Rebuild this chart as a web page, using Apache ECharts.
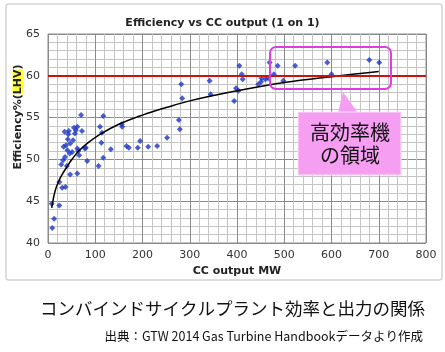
<!DOCTYPE html>
<html>
<head>
<meta charset="utf-8">
<script src="https://cdn.jsdelivr.net/npm/echarts@6/dist/echarts.min.js"></script>
<style>
    html, body { margin: 0; padding: 0; background: #fff; }
    #chart { width: 445px; height: 352px; }
</style>
</head>
<body>
<div id="chart"></div>
<script>
// プラント出力 (MW) と効率 (%LHV)
var plantOutput = [8, 9, 13, 24, 24, 30, 37, 28, 32, 36, 38, 40, 41, 42, 43, 44, 46, 47, 47, 51,
    53, 55, 57, 59, 62, 62, 62, 64, 66, 70, 72, 78, 80, 83, 33, 35,
    107, 110, 114, 117, 113, 117, 133, 156, 157, 166, 171, 190, 195, 212, 231, 252,
    277, 279, 282, 284, 342, 344, 394, 398, 403, 405, 410, 412,
    445, 451, 452, 460, 466, 469, 478, 486, 498, 523, 591, 600, 680, 701];
var plantEff = [44.7, 41.8, 42.9, 44.5, 47.3, 46.6, 46.7, 49.4, 49.9, 50.3, 51.7, 49.2, 51.1, 52.4, 53.0, 53.4, 50.7, 51.9, 48.2, 50.9,
    52.3, 53.8, 53.1, 53.5, 53.9, 51.3, 48.3, 51.0, 50.5, 55.3, 53.4, 51.3, 51.4, 49.8, 51.5, 53.3,
    49.2, 53.9, 53.2, 55.2, 52.0, 50.2, 51.2, 54.2, 53.9, 51.6, 51.4, 51.4, 52.2, 51.5, 51.6, 52.6,
    54.7, 53.6, 59.0, 57.3, 59.4, 57.8, 57.0, 58.5, 58.2, 61.2, 60.2, 59.6,
    59.0, 59.3, 59.7, 59.6, 59.7, 61.6, 60.2, 61.2, 59.4, 61.2, 61.6, 60.2, 61.9, 61.6];

// 近似曲線
var trendOutput = [8, 12, 16, 22, 30, 40, 52, 65, 85, 110, 150, 200, 250, 300, 400, 500, 600, 700];
var trendEff = [44.2, 45.5, 46.4, 47.3, 48.2, 49.1, 50.1, 51.0, 52.0, 53.0, 54.2, 55.3, 56.2, 57.0, 58.2, 59.2, 59.9, 60.5];

var highLine = 60;

var plants = [], trend = [];
for (var i = 0; i < plantOutput.length; i++) {
    plants.push([plantOutput[i], plantEff[i]]);
}
for (var j = 0; j < trendOutput.length; j++) {
    trend.push([trendOutput[j], trendEff[j]]);
}

var chart = echarts.init(document.getElementById('chart'));
var font = 'DejaVu Sans';
var option = {
    animation: false,
    title: {
        text: 'Efficiency vs CC output (1 on 1)',
        left: 'center',
        top: 13,
        textStyle: { fontFamily: font, fontSize: 11, fontWeight: 'bold', color: '#222' }
    },
    grid: { left: 48, right: 19, top: 34, bottom: 109, show: true, borderColor: '#888', borderWidth: 1 },
    xAxis: {
        type: 'value', min: 0, max: 800, interval: 100,
        name: 'CC output MW', nameLocation: 'middle', nameGap: 23,
        nameTextStyle: { fontFamily: font, fontSize: 11, fontWeight: 'bold', color: '#222' },
        axisLine: { show: false }, axisTick: { show: false },
        axisLabel: { fontFamily: font, fontSize: 11, color: '#333', margin: 7 },
        splitLine: { lineStyle: { color: '#8c8c8c', width: 1 } },
        minorTick: { show: false, splitNumber: 5 },
        minorSplitLine: { show: true, lineStyle: { color: '#c4c4c4', width: 1 } }
    },
    yAxis: {
        type: 'value', min: 40, max: 65, interval: 5,
        axisLine: { show: false }, axisTick: { show: false },
        axisLabel: { fontFamily: font, fontSize: 11, color: '#333', margin: 8 },
        splitLine: { lineStyle: { color: '#8c8c8c', width: 1 } },
        minorTick: { show: false, splitNumber: 5 },
        minorSplitLine: { show: true, lineStyle: { color: '#c4c4c4', width: 1 } }
    },
    series: [
        {
            type: 'scatter', data: plants, symbol: 'diamond', symbolSize: 6,
            itemStyle: { color: '#1c36c4' }, z: 3,
            markLine: {
                silent: true, symbol: 'none', label: { show: false },
                lineStyle: { color: '#d01010', width: 2, type: 'solid' },
                data: [{ yAxis: highLine }]
            }
        },
        {
            type: 'line', data: trend, smooth: 0.4, showSymbol: false,
            lineStyle: { color: '#000', width: 1.5 }, z: 4
        }
    ],
    graphic: [
        {
            type: 'rect', shape: { x: 6, y: 4, width: 436, height: 276, r: 2 },
            style: { fill: 'none', stroke: '#bdbdbd', lineWidth: 1 }, z: -1
        },
        {
            type: 'text', x: 18, y: 117, rotation: Math.PI / 2,
            style: {
                text: '{a|Efficiency%(}{b|LHV}{a|)}',
                align: 'center', verticalAlign: 'middle',
                rich: {
                    a: { fontFamily: font, fontSize: 11, fontWeight: 'bold', fill: '#222' },
                    b: { fontFamily: font, fontSize: 11, fontWeight: 'bold', fill: '#222', backgroundColor: '#ffff33' }
                }
            }
        },
        {
            type: 'rect', shape: { x: 270, y: 47, width: 121, height: 42, r: 6 },
            style: { fill: 'none', stroke: '#e03ce0', lineWidth: 2 }, z: 10
        },
        {
            type: 'polygon', shape: { points: [[338, 113], [358, 113], [343, 92]] },
            style: { fill: '#f59ef2' }, z: 10
        },
        {
            type: 'rect', shape: { x: 298, y: 112, width: 103, height: 63 },
            style: { fill: '#f59ef2', stroke: '#fbe0f9', lineWidth: 1 }, z: 10
        },
        {
            type: 'text', x: 350, y: 132, z: 11,
            style: { text: '高効率機', align: 'center', verticalAlign: 'middle', fontFamily: 'Noto Sans CJK JP', fontSize: 20, fill: '#111' }
        },
        {
            type: 'text', x: 350, y: 155, z: 11,
            style: { text: 'の領域', align: 'center', verticalAlign: 'middle', fontFamily: 'Noto Sans CJK JP', fontSize: 20, fill: '#111' }
        },
        {
            type: 'text', x: 425, y: 308,
            style: { text: 'コンバインドサイクルプラント効率と出力の関係', align: 'right', verticalAlign: 'middle', fontFamily: 'Noto Sans CJK JP', fontSize: 17.5, fill: '#111' }
        },
        {
            type: 'text', x: 423, y: 336,
            style: { text: '出典：GTW 2014 Gas Turbine Handbookデータより作成', align: 'right', verticalAlign: 'middle', fontFamily: 'Noto Sans CJK JP', fontSize: 12.5, fill: '#111' }
        }
    ]
};
chart.setOption(option);
</script>
</body>
</html>
